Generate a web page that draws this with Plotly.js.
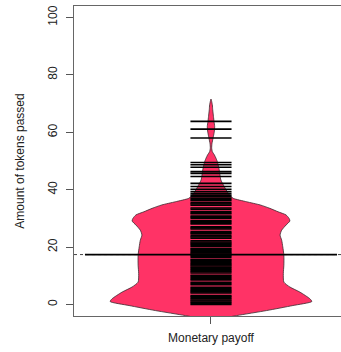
<!DOCTYPE html>
<html>
<head>
<meta charset="utf-8">
<script src="https://cdn.plot.ly/plotly-3.0.1.min.js"></script>
<style>
html,body{margin:0;padding:0;background:#fff;overflow:hidden;}
#chart{width:341px;height:352px;}
</style>
</head>
<body>
<div id="chart"></div>
<script>
// Category
var categories = ["Monetary payoff"];

var tokensPassed = [0,0.4,0.8,1.2,1.6,2.0,2.4,2.8,3.1,4.0,4.4,4.8,5.2,5.6,6.0,6.9,7.3,7.7,8.6,9.0,9.4,9.8,10.2,
  11.0,11.4,11.8,12.2,12.6,13.0,13.4,13.8,14.2,14.6,15.0,15.4,15.7,16.4,16.8,17.2,17.6,18.0,18.4,18.8,19.2,19.5,
  20.2,20.6,21.0,21.4,21.8,22.2,23.1,23.5,23.9,24.6,25.0,25.4,26.3,26.7,27.1,28.1,28.5,28.9,29.2,30.0,30.4,30.8,
  31.6,32.0,32.4,33.2,33.6,34.6,35.0,35.4,36.2,36.6,37.0,37.6,38.1,
  38.7,39.3,40.1,41.1,42.2,44.6,45.7,46.3,47.8,48.7,49.5,58.0,61.1,63.8];

// Mean of the bean
var meanValue = [17.4];

// Density outline of the bean: level and half-width (in category units)
var densityLevel = [71.6,69.5,67.9,65.5,63.8,62.0,60.0,58.0,56.0,54.5,53.2,52.2,51.0,49.8,48.3,46.9,45.0,43.4,
  41.5,39.5,38.0,37.0,35.8,34.7,33.5,32.3,31.2,30.0,29.1,27.7,25.9,24.2,22.4,20.1,17.2,13.7,10.8,7.8,6.1,4.3,
  2.0,1.05,-0.35,-2.1,-3.85,-5.0,-5.8];
var densityHalfWidth = [0,0.005,0.0062,0.009,0.011,0.0135,0.0117,0.0075,0.0035,0.0025,0.005,0.012,0.018,0.023,
  0.027,0.030,0.033,0.036,0.046,0.058,0.069,0.081,0.130,0.179,0.215,0.245,0.274,0.285,0.288,0.274,0.258,0.252,
  0.258,0.262,0.266,0.266,0.264,0.266,0.288,0.325,0.361,0.368,0.299,0.203,0.094,0.03,0];

// Y axis ticks
var yTicks = [0,20,40,60,80,100];

var center = 1;
var beanLineHalf = 0.075;
var xRange = [0.5, 1.4745];

// Build bean polygon
var polyX = [], polyY = [];
for (var i = 0; i < densityLevel.length; i++) { polyX.push(center + densityHalfWidth[i]); polyY.push(densityLevel[i]); }
for (var j = densityLevel.length - 1; j >= 0; j--) { polyX.push(center - densityHalfWidth[j]); polyY.push(densityLevel[j]); }

// Build bean lines
var lx = [], ly = [];
tokensPassed.forEach(function (v) {
  lx.push(center - beanLineHalf, center + beanLineHalf, null);
  ly.push(v, v, null);
});

var font = "Liberation Sans, Arial, sans-serif";

var traces = [
  { x: [xRange[0], xRange[1]], y: [meanValue[0], meanValue[0]], mode: "lines",
    line: { color: "#444", width: 1, dash: "dot" }, hoverinfo: "skip", showlegend: false },
  { x: polyX, y: polyY, mode: "lines", fill: "toself", fillcolor: "#FF3366",
    line: { color: "#3a2a2e", width: 0.8, shape: "spline", smoothing: 0.6 }, hoverinfo: "skip", showlegend: false },
  { x: lx, y: ly, mode: "lines", line: { color: "#000", width: 1.6 }, hoverinfo: "skip", showlegend: false, connectgaps: false },
  { x: [0.54, 1.46], y: [meanValue[0], meanValue[0]], mode: "lines",
    line: { color: "#000", width: 1.8 }, hoverinfo: "skip", showlegend: false }
];

var layout = {
  width: 341, height: 352,
  margin: { l: 74, r: 0, t: 6, b: 36, pad: 0 },
  paper_bgcolor: "#fff", plot_bgcolor: "#fff",
  font: { family: font, size: 12, color: "#222" },
  showlegend: false,
  xaxis: {
    range: xRange, tickvals: [center], ticktext: categories,
    ticks: "outside", ticklen: 7, tickcolor: "#555", tickwidth: 1,
    showline: true, mirror: true, linecolor: "#666", linewidth: 1,
    showgrid: false, zeroline: false, fixedrange: true,
    tickfont: { family: font, size: 12, color: "#222" },
    ticklabelstandoff: 4
  },
  yaxis: {
    range: [-4, 104], tickvals: yTicks, ticktext: yTicks.map(String), tickangle: -90,
    ticks: "outside", ticklen: 7, tickcolor: "#555", tickwidth: 1,
    showline: true, mirror: false, linecolor: "#666", linewidth: 1,
    showgrid: false, zeroline: false, fixedrange: true,
    tickfont: { family: font, size: 12, color: "#222" },
    ticklabelstandoff: 4,
    title: { text: "Amount of tokens passed", font: { family: font, size: 12, color: "#222" }, standoff: 19 }
  }
};

Plotly.newPlot("chart", traces, layout, { staticPlot: true, displayModeBar: false });
</script>
</body>
</html>
